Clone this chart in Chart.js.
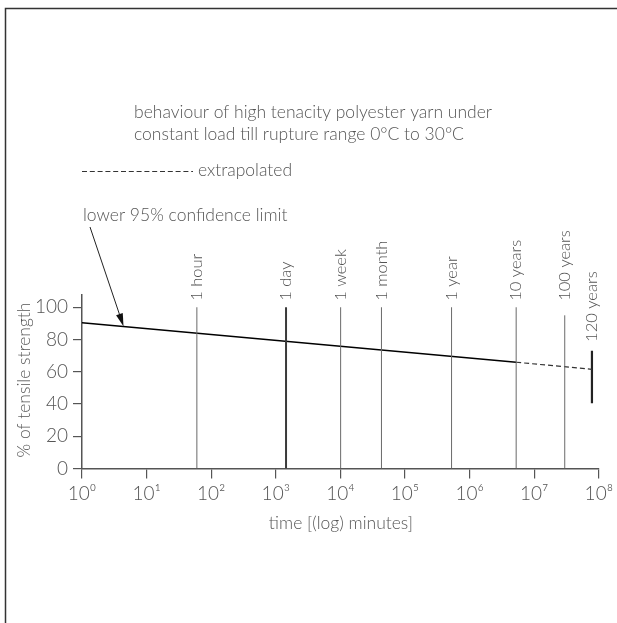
<!DOCTYPE html>
<html>
<head>
<meta charset="utf-8">
<script src="https://cdn.jsdelivr.net/npm/chart.js@4/dist/chart.umd.min.js"></script>
<style>
  html, body { margin: 0; padding: 0; background: #fff; }
  #wrap { width: 617px; height: 623px; position: relative; }
</style>
</head>
<body>
<div id="wrap"><canvas id="chartCanvas"></canvas></div>
<script>
// x: time in minutes (log), y: % of tensile strength
const timeTicks = [1, 10, 100, 1000, 10000, 100000, 1000000, 10000000, 100000000];
const timeTickLabels = ["10⁰", "10¹", "10²", "10³", "10⁴", "10⁵", "10⁶", "10⁷", "10⁸"];
const strengthTicks = [0, 20, 40, 60, 80, 100];

// lower 95% confidence limit, measured part and extrapolated part
const fitTimes = [1, 5256000];
const fitStrength = [90.4, 65.9];
const extrapTimes = [5256000, 78300000];
const extrapStrength = [65.9, 61.5];

// reference durations
const markerNames = ["1 hour", "1 day", "1 week", "1 month", "1 year", "10 years", "100 years"];
const markerTimes = [60, 1440, 10080, 43200, 525600, 5256000, 29700000];
const markerTops = [100, 100, 100, 100, 100, 100, 95];

// 120 years bar
const limitName = "120 years";
const limitTime = 78300000;
const limitRange = [40.4, 73];

const arrowTime = 4.4;

const FONT = "Lato, 'DejaVu Sans', sans-serif";
const TEXT = "#555";

function pairs(xs, ys) {
  return xs.map((x, i) => ({ x: x, y: ys[i] }));
}

const markerSets = markerTimes.map((t, i) => ({
  data: [{ x: t, y: 0 }, { x: t, y: markerTops[i] }],
  borderColor: i === 1 ? "#3a3a3a" : "#6a6a6a",
  borderWidth: i === 1 ? 2 : 1,
  pointRadius: 0,
  showLine: true
}));

const datasets = markerSets.concat([
  {
    data: pairs(fitTimes, fitStrength),
    borderColor: "#000",
    borderWidth: 1.4,
    pointRadius: 0,
    showLine: true
  },
  {
    data: pairs(extrapTimes, extrapStrength),
    borderColor: "#333",
    borderWidth: 1.2,
    borderDash: [5, 3],
    pointRadius: 0,
    showLine: true
  },
  {
    data: [{ x: limitTime, y: limitRange[0] }, { x: limitTime, y: limitRange[1] }],
    borderColor: "#222",
    borderWidth: 2.2,
    pointRadius: 0,
    showLine: true
  }
]);

function lineValueAt(t) {
  const a = Math.log10(fitTimes[0]), b = Math.log10(fitTimes[1]);
  const f = (Math.log10(t) - a) / (b - a);
  return fitStrength[0] + f * (fitStrength[1] - fitStrength[0]);
}

const annotations = {
  id: "annotations",
  beforeDraw(chart) {
    const ctx = chart.ctx;
    ctx.save();
    ctx.strokeStyle = "#333";
    ctx.lineWidth = 1.5;
    ctx.beginPath();
    ctx.moveTo(5.5, 623);
    ctx.lineTo(5.5, 8.5);
    ctx.lineTo(617, 8.5);
    ctx.stroke();
    ctx.restore();
  },
  afterDatasetsDraw(chart) {
    const ctx = chart.ctx;
    const xs = chart.scales.x, ys = chart.scales.y;
    ctx.save();
    ctx.fillStyle = TEXT;
    ctx.textAlign = "left";
    ctx.textBaseline = "alphabetic";
    ctx.font = "300 17.5px " + FONT;
    ctx.fillText("behaviour of high tenacity polyester yarn under", 134, 118);
    ctx.fillText("constant load till rupture range 0°C to 30°C", 134, 140);

    ctx.fillText("extrapolated", 198, 176);
    ctx.strokeStyle = "#333";
    ctx.lineWidth = 1;
    ctx.setLineDash([5, 2.8]);
    ctx.beginPath();
    ctx.moveTo(82, 171.5);
    ctx.lineTo(193, 171.5);
    ctx.stroke();
    ctx.setLineDash([]);

    ctx.fillText("lower 95% confidence limit", 83, 221);

    // arrow to the line
    const tx = xs.getPixelForValue(arrowTime);
    const ty = ys.getPixelForValue(lineValueAt(arrowTime));
    const sx = 90, sy = 227;
    const ang = Math.atan2(ty - sy, tx - sx);
    ctx.strokeStyle = "#222";
    ctx.lineWidth = 1;
    ctx.beginPath();
    ctx.moveTo(sx, sy);
    ctx.lineTo(tx - 10 * Math.cos(ang), ty - 10 * Math.sin(ang));
    ctx.stroke();
    ctx.fillStyle = "#111";
    ctx.beginPath();
    ctx.moveTo(tx, ty);
    ctx.lineTo(tx - 13 * Math.cos(ang) + 3.5 * Math.sin(ang), ty - 13 * Math.sin(ang) - 3.5 * Math.cos(ang));
    ctx.lineTo(tx - 13 * Math.cos(ang) - 3.5 * Math.sin(ang), ty - 13 * Math.sin(ang) + 3.5 * Math.cos(ang));
    ctx.closePath();
    ctx.fill();

    // duration labels, rotated
    ctx.fillStyle = TEXT;
    ctx.font = "300 16.5px " + FONT;
    ctx.textBaseline = "middle";
    const labelY = ys.getPixelForValue(104);
    markerNames.forEach((name, i) => {
      ctx.save();
      ctx.translate(xs.getPixelForValue(markerTimes[i]), labelY);
      ctx.rotate(-Math.PI / 2);
      ctx.fillText(name, 0, 0);
      ctx.restore();
    });
    ctx.save();
    ctx.translate(xs.getPixelForValue(limitTime), ys.getPixelForValue(78.5));
    ctx.rotate(-Math.PI / 2);
    ctx.fillText(limitName, 0, 0);
    ctx.restore();

    // axis titles
    ctx.font = "300 17.5px " + FONT;
    ctx.textAlign = "center";
    ctx.fillText("time [(log) minutes]", (xs.left + xs.right) / 2 + 0.5, 523);
    ctx.save();
    ctx.translate(24, 380);
    ctx.rotate(-Math.PI / 2);
    ctx.fillText("% of tensile strength", 0, 0);
    ctx.restore();
    ctx.restore();
  }
};

new Chart(document.getElementById("chartCanvas"), {
  type: "scatter",
  data: { datasets: datasets },
  plugins: [annotations],
  options: {
    responsive: true,
    maintainAspectRatio: false,
    animation: false,
    layout: { padding: { top: 295, right: 16, left: 0, bottom: 0 } },
    plugins: { legend: { display: false }, tooltip: { enabled: false } },
    scales: {
      x: {
        type: "logarithmic",
        min: 1,
        max: 100000000,
        afterBuildTicks: (scale) => { scale.ticks = timeTicks.map(v => ({ value: v })); },
        afterFit: (scale) => { scale.height = 154.5; },
        grid: { drawOnChartArea: false, drawTicks: true, tickLength: 10, color: "#555", lineWidth: 1.2 },
        border: { display: true, color: "#555", width: 1.5 },
        ticks: {
          autoSkip: false,
          maxRotation: 0,
          padding: 4,
          color: "#555",
          font: { family: FONT, size: 19, weight: 300 },
          callback: (v) => {
            const i = timeTicks.indexOf(v);
            return i >= 0 ? timeTickLabels[i] : "";
          }
        }
      },
      y: {
        min: 0,
        max: 107.6,
        afterBuildTicks: (scale) => { scale.ticks = strengthTicks.map(v => ({ value: v })); },
        afterFit: (scale) => { scale.width = 82; },
        grid: { drawOnChartArea: false, drawTicks: true, tickLength: 9, color: "#555", lineWidth: 1.2 },
        border: { display: true, color: "#555", width: 1.5 },
        ticks: {
          padding: 5,
          color: "#555",
          font: { family: FONT, size: 19, weight: 300 }
        }
      }
    }
  }
});
</script>
</body>
</html>
